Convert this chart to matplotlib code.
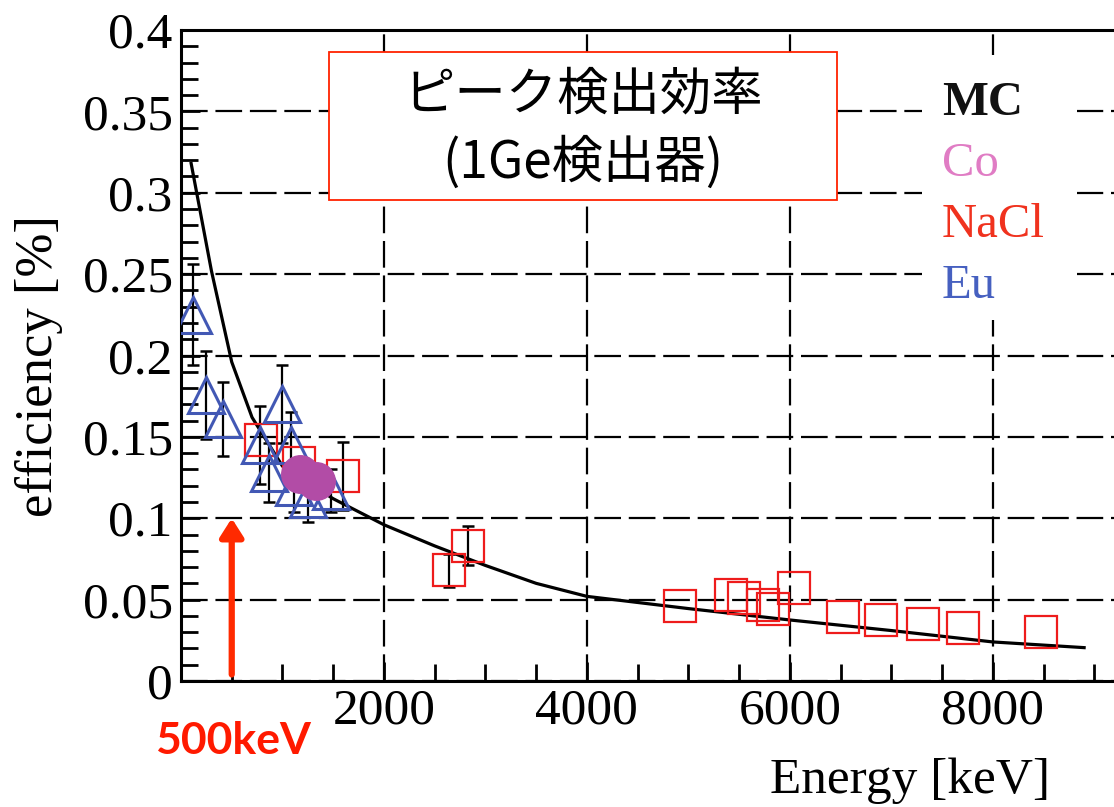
import numpy as np
import matplotlib
matplotlib.use("Agg")
import matplotlib.pyplot as plt
from matplotlib.patches import Rectangle
from matplotlib.ticker import MultipleLocator, FixedLocator, FuncFormatter

# MC simulation curve
mc_energy = [100, 200, 300, 400, 500, 700, 1000, 1500, 2000, 2500, 3000, 3500,
             4000, 5000, 6000, 7000, 8000, 8900]
mc_eff = [0.318, 0.285, 0.252, 0.224, 0.196, 0.162, 0.132, 0.112, 0.096, 0.083,
          0.071, 0.060, 0.052, 0.0445, 0.0375, 0.031, 0.024, 0.0205]

# 152Eu source
eu_energy = [122, 245, 411, 779, 867, 1000, 1086, 1112, 1250, 1480]
eu_eff = [0.225, 0.176, 0.161, 0.145, 0.128, 0.170, 0.145, 0.119, 0.112, 0.117]
eu_err = [0.031, 0.027, 0.023, 0.024, 0.018, 0.024, 0.020, 0.015, 0.014, 0.013]

# NaCl neutron capture lines (0 = error smaller than the marker)
nacl_energy = [786, 1165, 1601, 2640, 2830, 4920, 5420, 5550, 5734, 5830, 6040,
               6520, 6900, 7310, 7705, 8473]
nacl_eff = [0.148, 0.134, 0.126, 0.068, 0.083, 0.046, 0.053, 0.051, 0.047, 0.044,
            0.057, 0.0395, 0.0376, 0.035, 0.0327, 0.030]
nacl_err = [0, 0, 0.021, 0.010, 0.012, 0, 0, 0, 0, 0,
            0, 0, 0, 0, 0, 0]

# 60Co source
co_energy = [1173, 1332]
co_eff = [0.127, 0.123]

legend_names = ["MC", "Co", "NaCl", "Eu"]
legend_colors = ["#111111", "#e07cc4", "#f0321e", "#4660c0"]

W, H = 1114, 807
fig = plt.figure(figsize=(W / 100, H / 100), dpi=100)
ax = fig.add_axes([181 / W, 1 - 681 / H, 964 / W, 651 / H])

serif = "Liberation Serif"

ax.plot(mc_energy, mc_eff, color="black", lw=2.3, zorder=4)

ne = np.array(nacl_energy)
nf = np.array(nacl_eff)
nr = np.array(nacl_err)
shown = nr > 0
ax.errorbar(ne[shown], nf[shown], yerr=nr[shown], fmt="none", ecolor="black",
            elinewidth=1.6, capsize=4, capthick=1.8, zorder=3)
ax.errorbar(eu_energy, eu_eff, yerr=eu_err, fmt="none", ecolor="black",
            elinewidth=1.6, capsize=4, capthick=1.8, zorder=3)

ax.plot(nacl_energy, nacl_eff, ls="none", marker="s", ms=23, mfc="none",
        mec="#ee1c1c", mew=1.6, zorder=5)
ax.plot(eu_energy, eu_eff, ls="none", marker="^", ms=26, mfc="none",
        mec="#4258b4", mew=2.2, zorder=6)
ax.plot(co_energy, co_eff, ls="none", marker="o", ms=27, mfc="#b24ca6",
        mec="#b24ca6", zorder=7)

ax.set_xlim(0, 9500)
ax.set_ylim(0, 0.4)

ax.xaxis.set_major_locator(FixedLocator([2000, 4000, 6000, 8000]))
ax.xaxis.set_minor_locator(MultipleLocator(500))
ax.yaxis.set_major_locator(MultipleLocator(0.05))
ax.yaxis.set_minor_locator(MultipleLocator(0.01))
ax.yaxis.set_major_formatter(FuncFormatter(lambda v, p: "%g" % round(v, 2)))

ax.tick_params(which="both", direction="in", width=2, color="black",
               top=False, right=False)
ax.tick_params(which="major", length=14)
ax.tick_params(which="minor", length=12)
ax.tick_params(axis="y", pad=6)
ax.tick_params(axis="x", pad=5)
for lab in ax.get_xticklabels() + ax.get_yticklabels():
    lab.set_fontfamily(serif)
    lab.set_fontsize(37)

for side in ["left", "bottom", "top"]:
    ax.spines[side].set_linewidth(2.2)
ax.spines["right"].set_visible(False)

ax.grid(True, which="major", color="black", lw=1.6, ls=(0, (12, 3.5)))
ax.set_axisbelow(True)

ax.set_ylabel("efficiency [%]", fontfamily=serif, fontsize=38)
ax.yaxis.set_label_coords(-0.122, 0.484)
ax.set_xlabel("Energy [keV]", fontfamily=serif, fontsize=37)
ax.xaxis.set_label_coords(0.756, -0.117)

# title box
box = Rectangle((329 / W, 1 - 200 / H), 508 / W, 148 / H, transform=fig.transFigure,
                facecolor="white", edgecolor="#ff2200", lw=1.3, zorder=8, clip_on=False)
ax.add_patch(box)
jp = ["Noto Sans CJK JP", "DejaVu Sans"]
ax.text(583 / W, 1 - 95 / H, "ピーク検出効率", transform=fig.transFigure,
        ha="center", va="center", fontsize=37, family=jp, zorder=9)
ax.text(583 / W, 1 - 163 / H, "(1Ge検出器)", transform=fig.transFigure,
        ha="center", va="center", fontsize=37, family=jp, zorder=9)

# legend block
leg_bg = Rectangle((922 / W, 1 - 320 / H), 155 / W, 265 / H, transform=fig.transFigure,
                   facecolor="white", edgecolor="none", zorder=8, clip_on=False)
ax.add_patch(leg_bg)
for i, (name, col) in enumerate(zip(legend_names, legend_colors)):
    ax.text(942 / W, 1 - (103 + 61 * i) / H, name, transform=fig.transFigure,
            ha="left", va="center", fontsize=35, family=serif, color=col,
            weight="bold" if name == "MC" else "normal", zorder=9)

# 500 keV marker
ax.annotate("", xy=(500, 0.100), xytext=(500, 0.004),
            arrowprops=dict(arrowstyle="-|>,head_length=1.1,head_width=0.7",
                            color="#ff2a00", lw=4.5, shrinkA=0, shrinkB=0), zorder=9)
fig.text(155 / W, 1 - 741 / H, "500keV", ha="left", va="center", fontsize=32,
         family="Lato", weight="bold", color="#ff1a00")

fig.savefig("out.png", dpi=100)
